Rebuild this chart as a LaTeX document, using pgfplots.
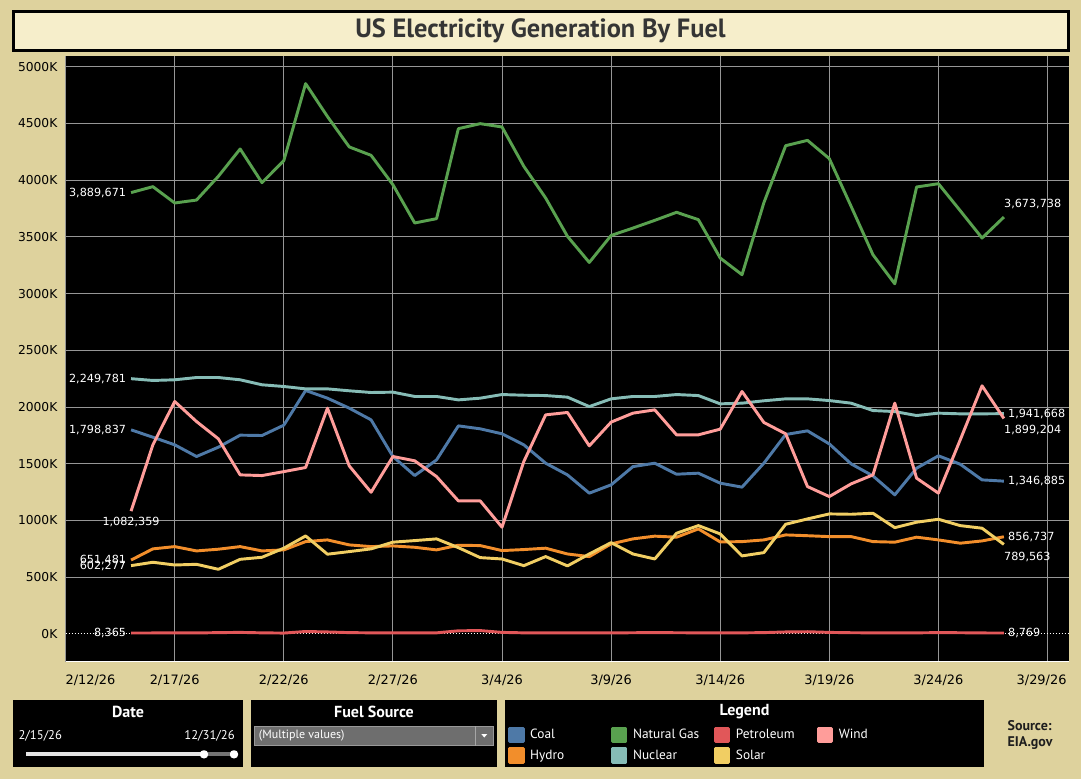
\documentclass[border=0pt]{standalone}
\usepackage{fontspec}
\setmainfont{PT Sans}
\newfontfamily\numfont{DejaVu Sans}
\usepackage{pgfplots}
\usepackage{pgfplotstable}
\pgfplotsset{compat=1.18}

\definecolor{panel}{RGB}{222,210,157}
\definecolor{titlebg}{RGB}{246,238,203}
\definecolor{gridc}{RGB}{150,150,150}
\definecolor{ink}{RGB}{30,30,30}
\definecolor{coal}{RGB}{78,121,167}
\definecolor{hydro}{RGB}{242,142,43}
\definecolor{natgas}{RGB}{89,161,79}
\definecolor{nuclear}{RGB}{134,188,182}
\definecolor{petrol}{RGB}{225,87,89}
\definecolor{solar}{RGB}{241,206,99}
\definecolor{wind}{RGB}{255,157,154}

\tikzset{lbl/.style={font=\numfont\fontsize{8.4}{10}\selectfont, text=white, inner sep=0pt}}

% day 0 = 2/12/26, values in thousands of MWh
\pgfplotstableread{
day coal hydro gas nuclear petrol solar wind
3 1798.837 651.481 3889.671 2249.781 8.365 602.277 1082.359
4 1734 750 3942 2234 9 632 1667
5 1667 770 3798 2240 10 608 2049
6 1564 732 3824 2260 9 614 1872
7 1646 747 4033 2260 12 570 1720
8 1752 770 4274 2240 14 658 1402
9 1749 732 3977 2196 10 676 1396
10 1840 741 4171 2181 8 756 1431
11 2146 814 4850 2160 22 864 1467
12 2078 829 4560 2160 18 703 1990
13 1990 785 4292 2143 12 726 1481
14 1887 770 4218 2128 10 750 1249
15 1564 776 3959 2131 9 809 1564
16 1396 764 3622 2093 9 823 1526
17 1534 741 3660 2093 10 838 1387
18 1834 782 4453 2063 28 761 1173
19 1808 779 4497 2078 30 673 1173
20 1764 735 4468 2110 14 661 941
21 1667 744 4121 2104 10 602 1520
22 1505 756 3842 2101 9 682 1931
23 1402 705 3504 2087 9 600 1952
24 1241 682 3274 2004 9 705 1658
25 1314 794 3512 2072 9 805 1867
26 1475 838 3577 2093 11 705 1946
27 1505 862 3645 2093 12 661 1975
28 1408 853 3716 2110 11 888 1755
29 1417 926 3651 2101 10 955 1755
30 1329 811 3313 2028 9 882 1805
31 1294 814 3166 2034 10 688 2137
32 1505 829 3800 2055 12 717 1864
33 1758 873 4303 2072 18 967 1764
34 1790 866 4350 2072 20 1014 1299
35 1675 858 4189 2057 14 1058 1211
36 1499 858 3768 2034 11 1055 1323
37 1393 814 3342 1969 10 1064 1402
38 1226 809 3086 1960 9 937 2034
39 1461 853 3939 1925 10 985 1373
40 1570 829 3968 1946 12 1011 1241
41 1496 800 3730 1940 11 955 1711
42 1358 820 3489 1940 9 932 2187
43 1346.885 856.737 3673.738 1941.668 8.769 789.563 1899.204
}\energy

\begin{document}
\begin{tikzpicture}
\begin{scope}[x=0.75pt,y=0.75pt]
  \useasboundingbox (0,0) rectangle (1081,779);
  \fill[panel] (0,0) rectangle (1081,779);
  % title bar
  \draw[fill=titlebg, line width=2.25pt] (13,767.3) rectangle (1068,728.3);
  \node[text=ink!90!white, font=\fontsize{19.8}{22}\selectfont\bfseries] at (540.5,748) {US Electricity Generation By Fuel};
  % date filter
  \fill[black] (12.7,79) rectangle (242.7,12.3);
  \node[white, font=\fontsize{12}{14}\selectfont\bfseries] at (128,67.3) {Date};
  \node[white, anchor=west, inner sep=0pt, font=\fontsize{9.5}{11}\selectfont] at (18.3,43) {2/15/26};
  \node[white, anchor=east, inner sep=0pt, font=\fontsize{9.5}{11}\selectfont] at (235,43) {12/31/26};
  \draw[white!90!black, line width=3pt] (26,24.7) -- (204,24.7);
  \draw[black!55, line width=3pt] (206,24.7) -- (232,24.7);
  \fill[white, rounded corners=2.5pt] (200,20.7) rectangle (208,28.7);
  \fill[white, rounded corners=2.5pt] (230,20.7) rectangle (238,28.7);
  % fuel source filter
  \fill[black] (250.7,79) rectangle (496.7,12.3);
  \node[white, font=\fontsize{12}{14}\selectfont\bfseries] at (374,67.3) {Fuel Source};
  \draw[fill=black!57, draw=black!40] (254,53) rectangle (493.3,33.3);
  \draw[black!35] (475.7,53) -- (475.7,33.3);
  \fill[white] (481.3,45) -- (487.3,45) -- (484.3,41.5) -- cycle;
  \node[white, anchor=west, inner sep=0pt, font=\fontsize{9}{11}\selectfont] at (258.7,43) {(Multiple values)};
  % legend panel
  \fill[black] (505,79) rectangle (984,12.3);
  \node[white, font=\fontsize{12}{14}\selectfont\bfseries] at (744.5,67.3) {Legend};
  % source
  \node[text=ink, anchor=west, inner sep=0pt, font=\fontsize{10.5}{12}\selectfont\bfseries] at (1007.3,53.3) {Source:};
  \node[text=ink, anchor=west, inner sep=0pt, font=\fontsize{10.5}{12}\selectfont\bfseries] at (1007.3,35.7) {EIA.gov};
\end{scope}

\begin{axis}[
  at={(49.2pt,88pt)}, anchor=south west,
  scale only axis, width=752.8pt, height=454.3pt,
  xmin=0, xmax=46, ymin=-244, ymax=5094,
  axis background/.style={fill=black},
  axis x line*=bottom, axis y line*=left,
  x axis line style={white, line width=0.9pt, -},
  y axis line style={draw=none},
  major tick length=0pt,
  xtick={0,5,...,45},
  xticklabels={\makebox[0pt][l]{2/12/26},2/17/26,2/22/26,2/27/26,3/4/26,3/9/26,3/14/26,3/19/26,3/24/26,\makebox[0pt][r]{3/29/26\kern-14.25pt}},
  ytick={500,1000,...,5000},
  yticklabels={500K,1000K,1500K,2000K,2500K,3000K,3500K,4000K,4500K,5000K},
  extra y ticks={0}, extra y tick labels={0K},
  extra y tick style={grid=major, major grid style={white, line width=0.75pt, dash pattern=on 0.75pt off 1.5pt}},
  xticklabel style={font=\numfont\fontsize{9.7}{11}\selectfont, text=black, inner sep=0pt, anchor=north, yshift=-10pt},
  yticklabel style={font=\numfont\fontsize{9.2}{11}\selectfont, text=black, inner sep=0pt, anchor=east, xshift=-6pt},
  grid=major, major grid style={gridc, line width=0.75pt},
  every axis plot/.append style={line width=2.2pt, line join=round, no markers},
  legend columns=2, transpose legend, legend cell align=left,
  legend image code/.code={\fill[#1] (0pt,-5pt) rectangle (10pt,5pt);},
  legend style={at={(axis description cs:0.4411,-0.1075)}, anchor=north west,
    draw=none, fill=none, text=white, inner sep=0pt, outer sep=0pt,
    font=\fontsize{10}{12}\selectfont, row sep=3.2pt,
    nodes={inner sep=0pt, text height=8pt, text depth=2pt},
    /tikz/every odd column/.append style={column sep=4.2pt}},
]
\addplot[color=coal] table[x=day, y=coal] {\energy};
\addlegendentry{\makebox[60.75pt][l]{Coal}}
\addplot[color=hydro] table[x=day, y=hydro] {\energy};
\addlegendentry{\makebox[60.75pt][l]{Hydro}}
\addplot[color=natgas] table[x=day, y=gas] {\energy};
\addlegendentry{\makebox[60.75pt][l]{Natural Gas}}
\addplot[color=nuclear] table[x=day, y=nuclear] {\energy};
\addlegendentry{\makebox[60.75pt][l]{Nuclear}}
\addplot[color=petrol] table[x=day, y=petrol] {\energy};
\addlegendentry{\makebox[60.75pt][l]{Petroleum}}
\addplot[color=solar] table[x=day, y=solar] {\energy};
\addlegendentry{\makebox[60.75pt][l]{Solar}}
\addplot[color=wind] table[x=day, y=wind] {\energy};
\addlegendentry{\makebox[60.75pt][l]{Wind}}

% first and last values
\node[lbl, anchor=east, xshift=-3.5pt] at (axis cs:3,3889.671) {3,889,671};
\node[lbl, anchor=east, xshift=-3.5pt] at (axis cs:3,2249.781) {2,249,781};
\node[lbl, anchor=east, xshift=-3.5pt] at (axis cs:3,1798.837) {1,798,837};
\node[lbl, anchor=north, yshift=-4pt] at (axis cs:3,1082.359) {1,082,359};
\node[lbl, anchor=east, xshift=-3.5pt] at (axis cs:3,651.481) {651,481};
\node[lbl, anchor=east, xshift=-3.5pt] at (axis cs:3,602.277) {602,277};
\node[lbl, anchor=east, xshift=-3.5pt] at (axis cs:3,8.365) {8,365};
\node[lbl, anchor=south west, yshift=6pt] at (axis cs:43,3673.738) {3,673,738};
\node[lbl, anchor=west, xshift=3pt] at (axis cs:43,1941.668) {1,941,668};
\node[lbl, anchor=north west, yshift=-5pt] at (axis cs:43,1899.204) {1,899,204};
\node[lbl, anchor=west, xshift=3pt] at (axis cs:43,1346.885) {1,346,885};
\node[lbl, anchor=west, xshift=3pt] at (axis cs:43,856.737) {856,737};
\node[lbl, anchor=north west, yshift=-6pt] at (axis cs:43,789.563) {789,563};
\node[lbl, anchor=west, xshift=3pt] at (axis cs:43,8.769) {8,769};
\end{axis}
\end{tikzpicture}
\end{document}
